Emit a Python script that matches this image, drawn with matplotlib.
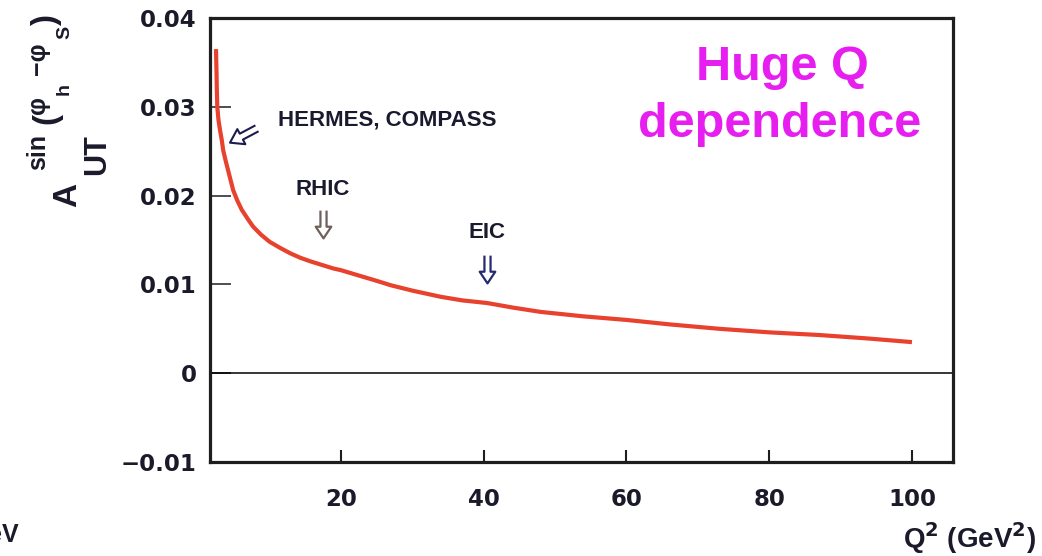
import matplotlib
matplotlib.use("Agg")
import matplotlib.pyplot as plt
from matplotlib.path import Path
from matplotlib.markers import MarkerStyle

plt.rcParams["mathtext.fontset"] = "dejavusans"
plt.rcParams["mathtext.default"] = "bf"

# -------------------------------------------------------------
# Data: Sivers asymmetry vs Q^2
# -------------------------------------------------------------
q2 = [2.49, 2.56, 2.60, 2.67, 2.84, 3.05, 3.29, 3.5, 3.85, 4.2, 4.9,
      5.5, 6.1, 7.0, 7.7, 8.8, 10.0, 11.5, 12.9, 14.3, 15.7, 17.3,
      18.9, 20.0, 22.5, 25.0, 27.0, 30.0, 34.0, 37.0, 40.5, 44.0,
      48.0, 54.0, 60.0, 66.0, 73.0, 80.0, 87.0, 94.0, 100.0]
asym = [0.0365, 0.0340, 0.0322, 0.0300, 0.0285, 0.0274, 0.0263, 0.0251,
        0.0239, 0.0228, 0.0206, 0.0194, 0.0184, 0.0173, 0.0165, 0.0156,
        0.0148, 0.0141, 0.0135, 0.0130, 0.0126, 0.0122, 0.0118, 0.0116,
        0.0110, 0.0104, 0.0099, 0.0093, 0.0086, 0.0082, 0.0079, 0.0074,
        0.0069, 0.0064, 0.0060, 0.0055, 0.0050, 0.0046, 0.0043, 0.0039,
        0.0035]

x_ticks = [20, 40, 60, 80, 100]
y_ticks = [-0.01, 0.0, 0.01, 0.02, 0.03, 0.04]
y_tick_labels = ["\u22120.01", "0", "0.01", "0.02", "0.03", "0.04"]

# experiments and the Q^2 they reach
exp_names = ["RHIC", "EIC"]
exp_q2 = [17.5, 40.5]

W, H = 1042, 556
fig = plt.figure(figsize=(W / 100, H / 100), dpi=100)
ax = fig.add_axes([210 / W, 1 - 462 / H, (953 - 210) / W, (462 - 18) / H])

ax.plot(q2, asym, color="#e8412d", lw=3.0, solid_joinstyle="round",
        solid_capstyle="butt", zorder=3)
ax.axhline(0, color="black", lw=1.1, zorder=2)

ax.set_xlim(1.65, 105.75)
ax.set_ylim(-0.01, 0.04)

for s in ax.spines.values():
    s.set_linewidth(2.3)
    s.set_color("#1e1e1e")

ax.set_xticks(x_ticks)
ax.set_xticklabels([str(v) for v in x_ticks])
ax.set_yticks(y_ticks)
ax.set_yticklabels(y_tick_labels)
ax.tick_params(axis="x", direction="in", length=8.6, width=1.5, pad=18.5,
               labelsize=16.5, colors="#1e1e1e")
ax.tick_params(axis="y", direction="in", length=15, width=1.1, pad=9.5,
               labelsize=16.5, colors="#1e1e1e")
for lab in ax.get_xticklabels() + ax.get_yticklabels():
    lab.set_fontweight("bold")
    lab.set_color("#1a1a2a")

# -------------------------------------------------------------
# Hollow double-shaft arrow used as a marker (points down)
# -------------------------------------------------------------
hw, sw, hy = 0.28, 0.11, -0.08
arrow_verts = [(-sw, 0.5), (-sw, hy), (-hw, hy), (0, -0.5),
               (hw, hy), (sw, hy), (sw, 0.5)]
down_arrow = MarkerStyle(Path(arrow_verts))

txt_kw = dict(fontsize=16, fontweight="bold", color="#1a1a2e",
              family="Liberation Sans")

# HERMES / COMPASS
ax.plot(6.3, 0.0268, marker=down_arrow.rotated(deg=-62), ms=22,
        mfc="none", mec="#1c1c50", mew=1.5, zorder=4)
ax.text(11.2, 0.0279, "HERMES, COMPASS", ha="left", va="baseline", **txt_kw)

# RHIC and EIC
arrow_cols = ["#6e615b", "#262a6e"]
arrow_y = [0.0168, 0.01173]
label_y = [0.0201, 0.01524]
for name, xq, ya, yl, c in zip(exp_names, exp_q2, arrow_y, label_y, arrow_cols):
    ax.plot(xq, ya, marker=down_arrow, ms=20, mfc="none", mec=c, mew=1.6,
            zorder=4)
    ax.text(xq, yl, name, ha="center", va="baseline", **txt_kw)

# -------------------------------------------------------------
# Axis titles
# -------------------------------------------------------------
fig.text(1036 / W, 1 - 548 / H, r"Q$^{2}$ (GeV$^{2}$)", ha="right",
         va="baseline", fontsize=20, fontweight="bold", color="#1a1a2a",
         family="Liberation Sans")

ylab_kw = dict(rotation=90, fontweight="bold", color="#1a1a2a",
               family="Liberation Sans")
fig.text(83 / W, 1 - 195 / H, "A", ha="right", va="center", fontsize=24,
         **ylab_kw)
fig.text(112 / W, 1 - 155 / H, "UT", ha="right", va="center", fontsize=22,
         **ylab_kw)


def vtext(px, py, s, size):
    # upright-reading vertical piece, anchored at its baseline start
    fig.text(px / W, 1 - py / H, s, ha="left", va="baseline",
             rotation_mode="anchor", fontsize=size, **ylab_kw)


# sin(phi_h - phi_S) superscript built piece by piece
vtext(45, 170, "sin", 18)
vtext(55, 124, "(", 24)
vtext(45, 114, "\u03c6", 18)
vtext(69, 95, "h", 14)
vtext(45, 75, "\u2212\u03c6", 18)
vtext(69, 39, "S", 14)
vtext(55, 26, ")", 24)

# -------------------------------------------------------------
# Headline
# -------------------------------------------------------------
head_kw = dict(ha="center", va="baseline", fontsize=35, fontweight="bold",
               color="#e61ef0", family="Liberation Sans")
fig.text(782 / W, 1 - 80 / H, "Huge Q", **head_kw)
fig.text(780 / W, 1 - 137 / H, "dependence", **head_kw)

# leftover unit from the neighbouring panel
fig.text(-12 / W, 1 - 542 / H, "eV", ha="left", va="baseline", fontsize=18,
         fontweight="bold", color="#1a1a2a", family="Liberation Sans")

fig.savefig("out.png", dpi=100)
